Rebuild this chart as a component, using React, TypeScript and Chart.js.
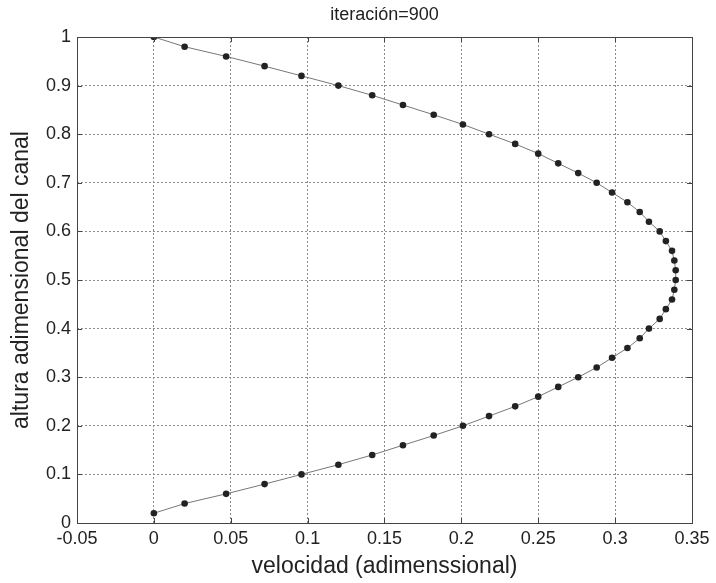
import { useEffect, useRef } from "react";
import { Chart, registerables } from "chart.js";

Chart.register(...registerables);

const chartTitle = "iteración=900";
const xAxisTitle = "velocidad (adimenssional)";
const yAxisTitle = "altura adimensional del canal";

const heights = [
  0.02, 0.04, 0.06, 0.08, 0.1, 0.12, 0.14, 0.16, 0.18, 0.2,
  0.22, 0.24, 0.26, 0.28, 0.3, 0.32, 0.34, 0.36, 0.38, 0.4,
  0.42, 0.44, 0.46, 0.48, 0.5, 0.52, 0.54, 0.56, 0.58, 0.6,
  0.62, 0.64, 0.66, 0.68, 0.7, 0.72, 0.74, 0.76, 0.78, 0.8,
  0.82, 0.84, 0.86, 0.88, 0.9, 0.92, 0.94, 0.96, 0.98, 1.0,
];

const velocities = [
  0.0, 0.02, 0.047, 0.072, 0.096, 0.12, 0.142, 0.162, 0.182, 0.201,
  0.218, 0.235, 0.25, 0.263, 0.276, 0.288, 0.298, 0.308, 0.316, 0.322,
  0.329, 0.333, 0.337, 0.3385, 0.3394, 0.3394, 0.3385, 0.337, 0.333, 0.329,
  0.322, 0.316, 0.308, 0.298, 0.288, 0.276, 0.263, 0.25, 0.235, 0.218,
  0.201, 0.182, 0.162, 0.142, 0.12, 0.096, 0.072, 0.047, 0.02, 0.0,
];

const xMin = -0.05;
const xMax = 0.35;
const xStep = 0.05;
const yMin = 0;
const yMax = 1;
const yStep = 0.1;

const FONT = "'Liberation Sans', Arial, Helvetica, sans-serif";
const TEXT = "#222";

const fmt = (v: number | string) => String(Math.round(Number(v) * 100) / 100);

const boxPlugin = {
  id: "matlabBox",
  afterDatasetsDraw(chart: any) {
    const { ctx, chartArea } = chart;
    const { left, right, top, bottom } = chartArea;
    const xs = chart.scales.x;
    const ys = chart.scales.y;
    ctx.save();
    ctx.strokeStyle = "#444";
    ctx.lineWidth = 1;
    const tl = 5;
    ctx.beginPath();
    xs.ticks.forEach((t: any) => {
      const px = Math.round(xs.getPixelForValue(t.value)) + 0.5;
      ctx.moveTo(px, bottom);
      ctx.lineTo(px, bottom - tl);
      ctx.moveTo(px, top);
      ctx.lineTo(px, top + tl);
    });
    ys.ticks.forEach((t: any) => {
      const py = Math.round(ys.getPixelForValue(t.value)) + 0.5;
      ctx.moveTo(left, py);
      ctx.lineTo(left + tl, py);
      ctx.moveTo(right, py);
      ctx.lineTo(right - tl, py);
    });
    ctx.stroke();
    ctx.strokeRect(
      Math.round(left) + 0.5,
      Math.round(top) + 0.5,
      Math.round(right - left),
      Math.round(bottom - top)
    );
    // title centred over the plot area
    ctx.fillStyle = TEXT;
    ctx.font = `18px ${FONT}`;
    ctx.textAlign = "center";
    ctx.textBaseline = "middle";
    ctx.fillText(chartTitle, (left + right) / 2, 15);
    ctx.restore();
  },
};

export default function App() {
  const canvasRef = useRef<HTMLCanvasElement | null>(null);

  useEffect(() => {
    document.body.style.margin = "0";
    const canvas = canvasRef.current;
    if (!canvas) return;
    const points = heights.map((h, i) => ({ x: velocities[i], y: h }));
    const chart = new Chart(canvas, {
      type: "scatter",
      data: {
        datasets: [
          {
            data: points,
            showLine: true,
            borderColor: "#777",
            borderWidth: 1,
            pointRadius: 3.3,
            pointBackgroundColor: "#222",
            pointBorderColor: "#222",
            pointBorderWidth: 0,
          },
        ],
      },
      options: {
        responsive: false,
        animation: false,
        devicePixelRatio: 1,
        layout: { padding: { top: 37, right: 24, bottom: 0, left: 0 } },
        plugins: {
          legend: { display: false },
          tooltip: { enabled: false },
          title: { display: false },
        },
        scales: {
          x: {
            type: "linear",
            min: xMin,
            max: xMax,
            afterFit: (s: any) => {
              s.height = 60;
            },
            ticks: {
              stepSize: xStep,
              color: TEXT,
              font: { family: FONT, size: 18 },
              padding: 5,
              maxRotation: 0,
              autoSkip: false,
              callback: (v: any) => fmt(v),
            },
            grid: {
              color: "#8a8a8a",
              lineWidth: 1,
              drawTicks: false,
            },
            border: { display: false, dash: [2, 2] },
            title: {
              display: true,
              text: xAxisTitle,
              color: TEXT,
              font: { family: FONT, size: 23 },
              padding: { top: 0, bottom: 3 },
            },
          },
          y: {
            type: "linear",
            min: yMin,
            max: yMax,
            afterFit: (s: any) => {
              s.width = 77;
            },
            ticks: {
              stepSize: yStep,
              color: TEXT,
              font: { family: FONT, size: 18 },
              padding: 6,
              autoSkip: false,
              callback: (v: any) => fmt(v),
            },
            grid: {
              color: "#8a8a8a",
              lineWidth: 1,
              drawTicks: false,
            },
            border: { display: false, dash: [2, 2] },
            title: {
              display: true,
              text: yAxisTitle,
              color: TEXT,
              font: { family: FONT, size: 23 },
              padding: { top: 8, bottom: 0 },
            },
          },
        },
      },
      plugins: [boxPlugin],
    } as any);
    return () => chart.destroy();
  }, []);

  return (
    <div style={{ width: 716, height: 583, background: "#fff" }}>
      <canvas ref={canvasRef} width={716} height={583} />
    </div>
  );
}
